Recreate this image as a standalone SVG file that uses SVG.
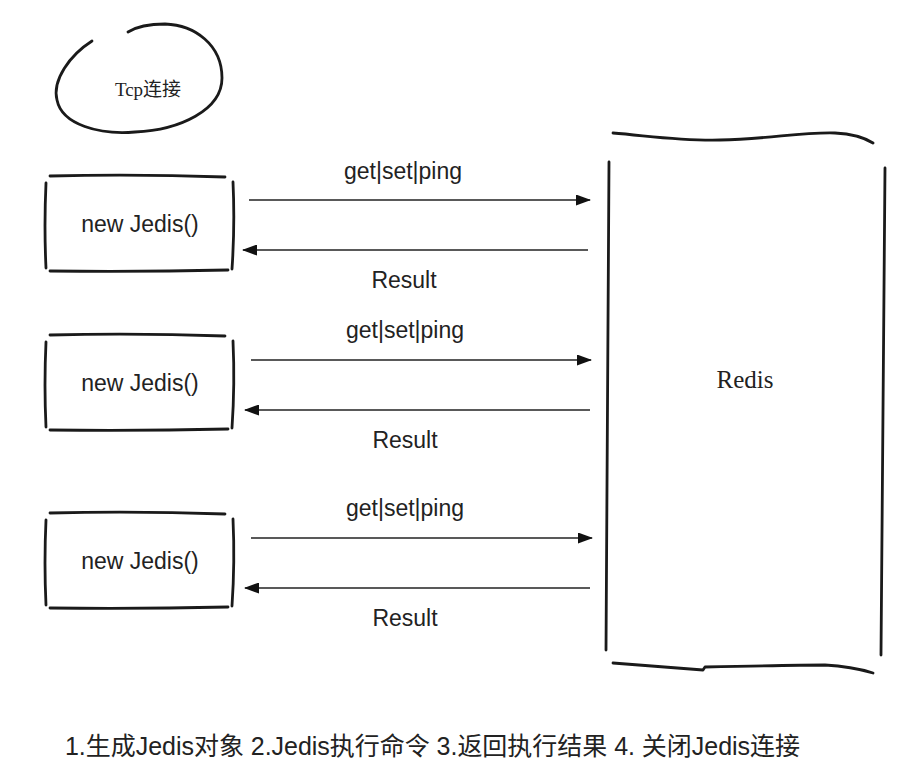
<svg xmlns="http://www.w3.org/2000/svg" width="921" height="777" viewBox="0 0 921 777">
<defs>
<style>
.sk{fill:none;stroke:#1a1a1a;stroke-width:2.8;stroke-linecap:round;stroke-linejoin:round}
.ar{fill:none;stroke:#222;stroke-width:1.6}
.lbl{font-family:"Liberation Sans",Arial,sans-serif;font-size:23px;fill:#222;text-anchor:middle}
.ser{font-family:"Liberation Serif","Noto Sans CJK SC",serif;fill:#222;text-anchor:middle}
</style>
<marker id="ah" viewBox="0 0 15 11" refX="14" refY="5.5" markerWidth="15" markerHeight="11" markerUnits="userSpaceOnUse" orient="auto">
<path d="M0,0 L15,5.5 L0,11 Z" fill="#111"/>
</marker>
</defs>
<rect width="921" height="777" fill="#fff"/>

<g id="tcp">
<path class="sk" d="M92,41 C70,55 52,80 57,100 C62,125 100,135 135,132 C180,130 222,110 222,78 C222,45 195,25 165,24 C150,24 136,27 128,32"/>
<text class="ser" x="148" y="96" font-size="19">Tcp连接</text>
</g>

<g id="jedis1">
<path class="sk" d="M50,176 Q137,174 225,177 M46,183 Q44,226 46,268 M233,182 Q235,225 232,269 M50,271 Q140,272 228,270"/>
<text class="lbl" x="140" y="232">new Jedis()</text>
</g>

<g id="jedis2" transform="translate(0,159)">
<path class="sk" d="M50,176 Q137,174 225,177 M46,183 Q44,226 46,268 M233,182 Q235,225 232,269 M50,271 Q140,272 228,270"/>
<text class="lbl" x="140" y="232">new Jedis()</text>
</g>

<g id="jedis3" transform="translate(0,337)">
<path class="sk" d="M50,176 Q137,174 225,177 M46,183 Q44,226 46,268 M233,182 Q235,225 232,269 M50,271 Q140,272 228,270"/>
<text class="lbl" x="140" y="232">new Jedis()</text>
</g>

<g id="redis">
<path class="sk" d="M613,133 C650,136 680,141 720,140 C770,139 800,132 835,133 C855,134 865,138 873,143"/>
<path class="sk" d="M609,162 L606,650 M885,168 L881,655"/>
<path class="sk" d="M613,663 L703,670 L705,667 C750,666 800,665 825,665 C845,666 860,669 873,673"/>
<text class="ser" x="745" y="388" font-size="25">Redis</text>
</g>

<g id="connectors">
<line class="ar" x1="249" y1="200" x2="590" y2="200" marker-end="url(#ah)"/>
<line class="ar" x1="588" y1="250" x2="243" y2="250" marker-end="url(#ah)"/>
<line class="ar" x1="251" y1="360" x2="591" y2="360" marker-end="url(#ah)"/>
<line class="ar" x1="590" y1="410" x2="245" y2="410" marker-end="url(#ah)"/>
<line class="ar" x1="251" y1="538" x2="592" y2="538" marker-end="url(#ah)"/>
<line class="ar" x1="590" y1="588" x2="245" y2="588" marker-end="url(#ah)"/>
<text class="lbl" x="403" y="179">get|set|ping</text>
<text class="lbl" x="404" y="288">Result</text>
<text class="lbl" x="405" y="338">get|set|ping</text>
<text class="lbl" x="405" y="448">Result</text>
<text class="lbl" x="405" y="516">get|set|ping</text>
<text class="lbl" x="405" y="626">Result</text>
</g>

<text x="65" y="755" font-family="'Liberation Sans','Noto Sans CJK SC',sans-serif" font-size="25" fill="#222" textLength="735" lengthAdjust="spacing">1.生成Jedis对象 2.Jedis执行命令 3.返回执行结果 4. 关闭Jedis连接</text>
</svg>
